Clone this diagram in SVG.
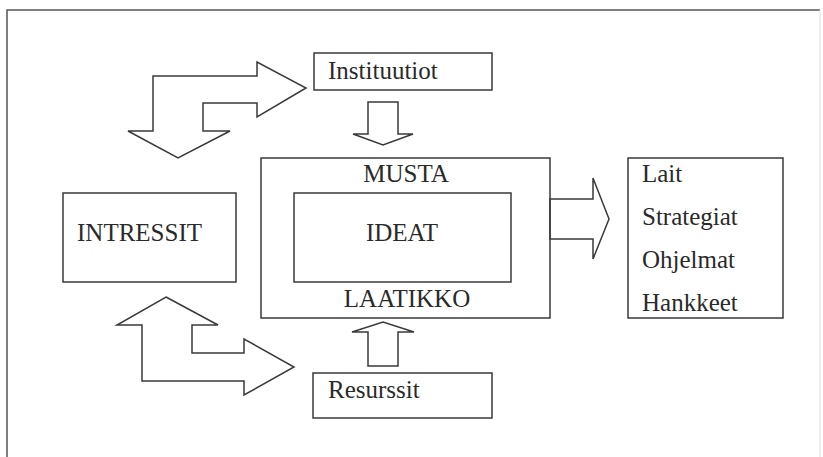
<svg xmlns="http://www.w3.org/2000/svg" width="823" height="457" viewBox="0 0 823 457">
<style>
.box{fill:none;stroke:#3a3a3a;stroke-width:1.5}
.arr{fill:#fff;stroke:#3a3a3a;stroke-width:1.5;stroke-linejoin:miter}
text{font-family:"Liberation Serif","Times New Roman",serif;font-size:25px;fill:#2a2a2a}
.c{text-anchor:middle}
</style>
<rect width="823" height="457" fill="#fff"/>
<g id="frame">
<path d="M7,460 V10 H820" fill="none" stroke="#555" stroke-width="1.5"/>
<path d="M820,10 V457" fill="none" stroke="#ddd" stroke-width="1"/>
</g>
<g id="connectors">
<polygon class="arr" points="153,76 257,76 257,62 306,88 257,117 257,103 203,103 203,131 230,131 178,158 128,131 153,131"/>
<polygon class="arr" points="166,297 218,325 192,325 192,353 244,353 244,339 294,367 244,395 244,381 142,381 142,325 117,325"/>
<polygon class="arr" points="368,102 398,102 398,134 413,134 383,145 353,134 368,134"/>
<polygon class="arr" points="368,366 398,366 398,332 414,332 383,322 352,332 368,332"/>
<polygon class="arr" points="550,199 593,199 593,178 609,219 593,259 593,239 550,239"/>
</g>
<g id="instituutiot">
<rect class="box" x="314" y="53" width="178" height="37"/>
<text x="328" y="79">Instituutiot</text>
</g>
<g id="intressit">
<rect class="box" x="63" y="193" width="173" height="89"/>
<text x="77" y="241">INTRESSIT</text>
</g>
<g id="musta-laatikko">
<rect class="box" x="261" y="158" width="289" height="160"/>
<text class="c" x="406" y="182">MUSTA</text>
<text class="c" x="407" y="307">LAATIKKO</text>
</g>
<g id="ideat">
<rect class="box" x="294" y="193" width="217" height="89"/>
<text class="c" x="402" y="241">IDEAT</text>
</g>
<g id="resurssit">
<rect class="box" x="313" y="373" width="179" height="45"/>
<text x="328" y="398">Resurssit</text>
</g>
<g id="tulokset">
<rect class="box" x="628" y="158" width="155" height="160"/>
<text x="642" y="182">Lait</text>
<text x="642" y="225">Strategiat</text>
<text x="642" y="268">Ohjelmat</text>
<text x="642" y="311">Hankkeet</text>
</g>
</svg>
